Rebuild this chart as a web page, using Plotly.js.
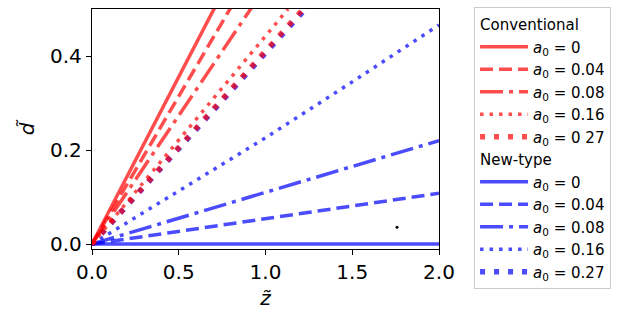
<!DOCTYPE html>
<html>
<head>
<meta charset="utf-8">
<script src="https://cdn.plot.ly/plotly-3.0.1.min.js"></script>
<style>html,body{margin:0;padding:0;background:#fff;}</style>
</head>
<body>
<div id="chart" style="width:627px;height:314px;"></div>
<script>
// Conventional (red) series
const convLabels = ["<i>a</i><sub>0</sub> = 0", "<i>a</i><sub>0</sub> = 0.04", "<i>a</i><sub>0</sub> = 0.08", "<i>a</i><sub>0</sub> = 0.16", "<i>a</i><sub>0</sub> = 0 27"];
const conv0_z = [0, 0.25, 0.5, 0.71];
const conv0_d = [0, 0.177, 0.355, 0.505];
const conv04_z = [0, 0.25, 0.5, 0.80];
const conv04_d = [0, 0.157, 0.315, 0.503];
const conv08_z = [0, 0.25, 0.5, 0.92];
const conv08_d = [0, 0.137, 0.273, 0.503];
const conv16_z = [0, 0.5, 1.0, 1.13];
const conv16_d = [0, 0.222, 0.443, 0.5];
const conv27_z = [0, 0.5, 1.0, 1.23];
const conv27_d = [0, 0.205, 0.41, 0.505];

// New-type (blue) series
const newLabels = ["<i>a</i><sub>0</sub> = 0", "<i>a</i><sub>0</sub> = 0.04", "<i>a</i><sub>0</sub> = 0.08", "<i>a</i><sub>0</sub> = 0.16", "<i>a</i><sub>0</sub> = 0.27"];
const new0_z = [0, 2.0];
const new0_d = [0, 0];
const new04_z = [0, 0.5, 1.0, 1.5, 2.0];
const new04_d = [0, 0.027, 0.054, 0.081, 0.108];
const new08_z = [0, 0.5, 1.0, 1.5, 2.0];
const new08_d = [0, 0.055, 0.11, 0.165, 0.22];
const new16_z = [0, 0.5, 1.0, 1.5, 2.0];
const new16_d = [0, 0.113, 0.226, 0.345, 0.466];
const new27_z = [0, 0.5, 1.0, 1.23];
const new27_d = [0, 0.203, 0.406, 0.5];

// stray point
const stray_z = [1.758];
const stray_d = [0.036];

const xTicks = [0, 0.5, 1.0, 1.5, 2.0];
const yTicks = [0, 0.2, 0.4];

const RED = "rgba(255,0,0,0.7)";
const BLUE = "rgba(0,0,255,0.7)";
const styles = [
  {dash: "solid", width: 3.5},
  {dash: "13px,6px", width: 3.5},
  {dash: "23px,6px,4px,6px", width: 3.5},
  {dash: "3.5px,6px", width: 3.5},
  {dash: "5px,9px", width: 5.5}
];

function mk(z, d, name, color, st, group, rank, title) {
  const t = {
    x: z, y: d, type: "scatter", mode: "lines", name: name,
    line: {color: color, dash: st.dash, width: st.width},
    legendgroup: group, legendrank: rank, hoverinfo: "skip"
  };
  if (title) t.legendgrouptitle = {text: title, font: {size: 15, color: "#000", weight: 400}};
  return t;
}

const newZ = [new0_z, new04_z, new08_z, new16_z, new27_z];
const newD = [new0_d, new04_d, new08_d, new16_d, new27_d];
const convZ = [conv0_z, conv04_z, conv08_z, conv16_z, conv27_z];
const convD = [conv0_d, conv04_d, conv08_d, conv16_d, conv27_d];

const data = [];
for (let i = 0; i < 5; i++) data.push(mk(newZ[i], newD[i], newLabels[i], BLUE, styles[i], "new", 100 + i, i === 0 ? "New-type" : null));
for (let i = 0; i < 5; i++) data.push(mk(convZ[i], convD[i], convLabels[i], RED, styles[i], "conv", 10 + i, i === 0 ? "Conventional" : null));
data.push({x: stray_z, y: stray_d, type: "scatter", mode: "markers", marker: {color: "#000", size: 3}, showlegend: false, hoverinfo: "skip"});

const layout = {
  width: 627, height: 314,
  margin: {l: 92, r: 188, t: 7, b: 65},
  paper_bgcolor: "#fff", plot_bgcolor: "#fff",
  font: {family: "DejaVu Sans", color: "#000"},
  showlegend: true,
  legend: {
    x: 1.101, y: 1.008, xanchor: "left", yanchor: "top",
    bordercolor: "#cccccc", borderwidth: 1,
    font: {size: 15, color: "#000"},
    traceorder: "grouped", tracegroupgap: 0, itemwidth: 48,
    entrywidth: 140, entrywidthmode: "pixels",
    maxheight: 400
  },
  xaxis: {
    range: [0, 2.0], tickvals: xTicks, tickformat: ".1f",
    ticks: "outside", ticklen: 5, tickwidth: 1, tickcolor: "#000",
    showline: true, linecolor: "#000", linewidth: 1.2, mirror: true,
    showgrid: false, zeroline: false,
    tickfont: {size: 20},
    title: {text: "<i>z̃</i>", font: {size: 20}, standoff: 7}
  },
  yaxis: {
    range: [-0.0105, 0.5], tickvals: yTicks, tickformat: ".1f",
    ticks: "outside", ticklen: 5, tickwidth: 1, tickcolor: "#000",
    showline: true, linecolor: "#000", linewidth: 1.2, mirror: true,
    showgrid: false, zeroline: false,
    tickfont: {size: 20},
    title: {text: "<i>d̃</i>", font: {size: 20}, standoff: 10}
  }
};

Plotly.newPlot("chart", data, layout, {displayModeBar: false, staticPlot: true});
</script>
</body>
</html>
